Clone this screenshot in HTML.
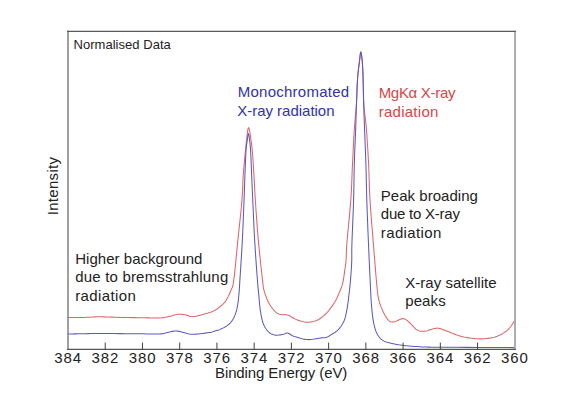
<!DOCTYPE html>
<html><head><meta charset="utf-8"><style>
html,body{margin:0;padding:0;background:#fff;width:568px;height:398px;overflow:hidden}
svg{display:block}
text{font-family:"Liberation Sans", sans-serif;}
</style></head><body>
<svg width="568" height="398" viewBox="0 0 568 398">
<rect x="0" y="0" width="568" height="398" fill="#fff"/>
<path d="M67.50,317.60 L68.87,317.59 L70.73,317.57 L72.93,317.56 L75.38,317.54 L77.92,317.51 L80.46,317.48 L82.86,317.45 L85.00,317.40 L86.87,317.34 L88.58,317.25 L90.20,317.15 L91.78,317.05 L93.39,316.95 L95.09,316.88 L96.94,316.82 L99.00,316.80 L101.30,316.82 L103.78,316.87 L106.41,316.95 L109.12,317.04 L111.89,317.14 L114.66,317.24 L117.38,317.33 L120.00,317.40 L122.55,317.45 L125.07,317.50 L127.57,317.54 L130.06,317.57 L132.54,317.61 L135.02,317.64 L137.51,317.67 L140.00,317.70 L142.57,317.74 L145.23,317.80 L147.94,317.87 L150.62,317.92 L153.23,317.97 L155.70,317.99 L157.98,317.97 L160.00,317.90 L161.74,317.78 L163.23,317.62 L164.54,317.41 L165.70,317.19 L166.78,316.94 L167.82,316.69 L168.88,316.44 L170.00,316.20 L171.17,315.95 L172.32,315.66 L173.46,315.35 L174.57,315.04 L175.67,314.76 L176.74,314.51 L177.78,314.32 L178.80,314.20 L179.77,314.16 L180.71,314.18 L181.60,314.26 L182.48,314.38 L183.35,314.52 L184.22,314.68 L185.10,314.84 L186.00,315.00 L186.87,315.20 L187.67,315.47 L188.44,315.78 L189.23,316.09 L190.09,316.37 L191.06,316.57 L192.18,316.66 L193.50,316.60 L195.12,316.37 L197.04,315.98 L199.14,315.48 L201.34,314.91 L203.53,314.30 L205.61,313.71 L207.46,313.16 L209.00,312.70 L210.21,312.32 L211.20,311.99 L212.01,311.69 L212.69,311.40 L213.28,311.12 L213.83,310.83 L214.39,310.53 L215.00,310.20 L215.62,309.86 L216.19,309.54 L216.73,309.21 L217.24,308.87 L217.76,308.50 L218.30,308.09 L218.87,307.63 L219.50,307.10 L220.19,306.52 L220.93,305.91 L221.71,305.26 L222.51,304.56 L223.31,303.81 L224.10,302.98 L224.87,302.09 L225.60,301.10 L226.31,300.00 L227.01,298.79 L227.71,297.50 L228.39,296.14 L229.05,294.74 L229.68,293.34 L230.26,291.95 L230.80,290.60 L231.27,289.47 L231.68,288.62 L232.04,287.88 L232.38,287.08 L232.70,286.06 L233.03,284.65 L233.39,282.68 L233.80,280.00 L234.25,276.49 L234.73,272.27 L235.22,267.50 L235.73,262.34 L236.25,256.95 L236.77,251.49 L237.29,246.12 L237.80,241.00 L238.33,235.95 L238.88,230.72 L239.45,225.41 L240.02,220.12 L240.56,214.95 L241.07,209.97 L241.52,205.29 L241.90,201.00 L242.19,197.16 L242.40,193.70 L242.55,190.53 L242.67,187.56 L242.77,184.72 L242.88,181.90 L243.01,179.02 L243.20,176.00 L243.44,172.79 L243.71,169.47 L243.99,166.10 L244.29,162.75 L244.59,159.50 L244.89,156.41 L245.16,153.55 L245.40,151.00 L245.62,148.76 L245.82,146.77 L246.01,144.98 L246.19,143.38 L246.35,141.91 L246.51,140.55 L246.66,139.26 L246.80,138.00 L246.93,136.81 L247.04,135.74 L247.14,134.77 L247.23,133.89 L247.31,133.09 L247.40,132.35 L247.49,131.66 L247.60,131.00 L247.72,130.37 L247.84,129.76 L247.96,129.20 L248.09,128.71 L248.22,128.29 L248.35,127.97 L248.47,127.77 L248.60,127.70 L248.72,127.77 L248.85,127.97 L248.97,128.29 L249.09,128.71 L249.22,129.20 L249.34,129.76 L249.47,130.37 L249.60,131.00 L249.73,131.66 L249.86,132.35 L249.98,133.09 L250.11,133.89 L250.25,134.77 L250.39,135.74 L250.54,136.81 L250.70,138.00 L250.88,139.26 L251.06,140.55 L251.26,141.91 L251.46,143.38 L251.67,144.98 L251.88,146.77 L252.09,148.76 L252.30,151.00 L252.51,153.55 L252.72,156.41 L252.94,159.50 L253.16,162.75 L253.38,166.10 L253.59,169.47 L253.80,172.79 L254.00,176.00 L254.18,179.02 L254.33,181.90 L254.48,184.72 L254.62,187.56 L254.77,190.53 L254.94,193.70 L255.15,197.16 L255.40,201.00 L255.69,205.29 L256.01,209.97 L256.36,214.95 L256.73,220.12 L257.12,225.41 L257.54,230.72 L257.96,235.95 L258.40,241.00 L258.88,246.12 L259.41,251.49 L259.97,256.95 L260.54,262.34 L261.10,267.50 L261.62,272.27 L262.10,276.49 L262.50,280.00 L262.80,282.67 L263.01,284.61 L263.16,285.99 L263.27,286.99 L263.40,287.77 L263.55,288.52 L263.78,289.40 L264.10,290.60 L264.51,292.06 L264.99,293.59 L265.51,295.16 L266.08,296.74 L266.68,298.31 L267.30,299.83 L267.95,301.27 L268.60,302.60 L269.28,303.85 L270.01,305.05 L270.77,306.19 L271.55,307.28 L272.34,308.30 L273.11,309.25 L273.87,310.12 L274.60,310.90 L275.28,311.59 L275.92,312.18 L276.53,312.69 L277.14,313.12 L277.76,313.50 L278.42,313.83 L279.12,314.13 L279.90,314.40 L280.74,314.59 L281.63,314.67 L282.55,314.68 L283.52,314.66 L284.52,314.65 L285.55,314.70 L286.61,314.83 L287.70,315.10 L288.83,315.53 L290.01,316.09 L291.23,316.75 L292.48,317.46 L293.74,318.18 L295.00,318.87 L296.26,319.49 L297.50,320.00 L298.72,320.43 L299.94,320.84 L301.16,321.22 L302.37,321.54 L303.60,321.82 L304.82,322.02 L306.06,322.15 L307.30,322.20 L308.57,322.16 L309.87,322.05 L311.19,321.86 L312.51,321.61 L313.81,321.30 L315.09,320.92 L316.32,320.49 L317.50,320.00 L318.63,319.44 L319.74,318.78 L320.81,318.05 L321.85,317.27 L322.85,316.45 L323.81,315.62 L324.73,314.80 L325.60,314.00 L326.41,313.21 L327.16,312.42 L327.85,311.62 L328.51,310.81 L329.14,310.00 L329.76,309.17 L330.38,308.34 L331.00,307.50 L331.63,306.66 L332.25,305.82 L332.85,304.98 L333.45,304.12 L334.03,303.26 L334.60,302.37 L335.16,301.45 L335.70,300.50 L336.22,299.51 L336.73,298.49 L337.21,297.45 L337.69,296.38 L338.15,295.30 L338.61,294.20 L339.06,293.10 L339.50,292.00 L339.95,290.92 L340.39,289.86 L340.83,288.80 L341.26,287.73 L341.68,286.62 L342.08,285.46 L342.45,284.22 L342.80,282.90 L343.12,281.45 L343.41,279.87 L343.68,278.21 L343.93,276.51 L344.16,274.79 L344.38,273.11 L344.59,271.50 L344.80,270.00 L345.00,268.65 L345.19,267.44 L345.37,266.30 L345.53,265.19 L345.69,264.06 L345.83,262.85 L345.97,261.52 L346.10,260.00 L346.19,258.48 L346.24,257.08 L346.26,255.67 L346.28,254.12 L346.32,252.31 L346.41,250.11 L346.56,247.38 L346.80,244.00 L347.16,239.79 L347.62,234.78 L348.16,229.20 L348.74,223.25 L349.32,217.14 L349.88,211.09 L350.39,205.31 L350.80,200.00 L351.12,195.12 L351.38,190.44 L351.60,185.91 L351.78,181.50 L351.95,177.15 L352.11,172.81 L352.29,168.45 L352.50,164.00 L352.73,159.42 L352.96,154.74 L353.19,150.02 L353.42,145.31 L353.66,140.69 L353.91,136.23 L354.15,131.97 L354.40,128.00 L354.66,124.35 L354.93,120.98 L355.22,117.82 L355.50,114.81 L355.78,111.89 L356.04,108.99 L356.28,106.05 L356.50,103.00 L356.68,99.81 L356.83,96.54 L356.95,93.23 L357.07,89.94 L357.18,86.72 L357.30,83.62 L357.44,80.69 L357.60,78.00 L357.79,75.53 L358.01,73.22 L358.24,71.07 L358.48,69.06 L358.72,67.16 L358.96,65.36 L359.19,63.65 L359.40,62.00 L359.59,60.34 L359.78,58.63 L359.95,56.97 L360.12,55.43 L360.29,54.09 L360.45,53.04 L360.62,52.35 L360.80,52.10 L360.99,52.35 L361.18,53.04 L361.39,54.09 L361.59,55.43 L361.78,56.97 L361.97,58.63 L362.15,60.34 L362.30,62.00 L362.43,63.65 L362.55,65.36 L362.66,67.16 L362.76,69.06 L362.85,71.07 L362.93,73.22 L363.01,75.53 L363.10,78.00 L363.17,80.69 L363.22,83.62 L363.25,86.72 L363.29,89.94 L363.34,93.23 L363.41,96.54 L363.53,99.81 L363.70,103.00 L363.93,106.05 L364.22,108.99 L364.54,111.89 L364.89,114.81 L365.26,117.82 L365.62,120.98 L365.98,124.35 L366.30,128.00 L366.61,131.97 L366.92,136.23 L367.22,140.69 L367.53,145.31 L367.82,150.02 L368.10,154.74 L368.36,159.42 L368.60,164.00 L368.80,168.45 L368.97,172.81 L369.10,177.15 L369.23,181.50 L369.37,185.91 L369.53,190.44 L369.74,195.12 L370.00,200.00 L370.33,205.10 L370.70,210.39 L371.11,215.83 L371.54,221.38 L372.00,227.00 L372.47,232.67 L372.94,238.35 L373.40,244.00 L373.87,249.87 L374.37,256.11 L374.88,262.52 L375.39,268.89 L375.90,275.02 L376.40,280.72 L376.87,285.78 L377.30,290.00 L377.68,293.28 L378.01,295.78 L378.31,297.65 L378.59,299.08 L378.89,300.24 L379.21,301.29 L379.57,302.42 L380.00,303.80 L380.50,305.35 L381.05,306.88 L381.65,308.38 L382.27,309.82 L382.91,311.22 L383.55,312.53 L384.19,313.77 L384.80,314.90 L385.40,315.95 L386.00,316.92 L386.59,317.83 L387.19,318.65 L387.79,319.39 L388.39,320.05 L388.99,320.62 L389.60,321.10 L390.19,321.48 L390.76,321.75 L391.31,321.94 L391.88,322.04 L392.47,322.06 L393.11,322.03 L393.81,321.94 L394.60,321.80 L395.50,321.54 L396.51,321.11 L397.58,320.57 L398.71,320.00 L399.84,319.45 L400.95,318.99 L402.02,318.69 L403.00,318.60 L403.90,318.72 L404.74,318.99 L405.54,319.39 L406.31,319.89 L407.08,320.47 L407.86,321.11 L408.66,321.80 L409.50,322.50 L410.38,323.30 L411.29,324.24 L412.21,325.28 L413.14,326.36 L414.09,327.41 L415.03,328.39 L415.97,329.24 L416.90,329.90 L417.82,330.39 L418.75,330.75 L419.67,331.02 L420.60,331.19 L421.52,331.30 L422.45,331.34 L423.37,331.33 L424.30,331.30 L425.23,331.20 L426.18,331.00 L427.12,330.72 L428.07,330.40 L429.01,330.06 L429.93,329.73 L430.83,329.43 L431.70,329.20 L432.53,329.00 L433.30,328.79 L434.05,328.58 L434.78,328.40 L435.52,328.26 L436.30,328.16 L437.11,328.14 L438.00,328.20 L438.93,328.35 L439.87,328.56 L440.84,328.84 L441.85,329.18 L442.91,329.56 L444.03,329.98 L445.22,330.43 L446.50,330.90 L447.89,331.42 L449.38,332.03 L450.96,332.68 L452.59,333.36 L454.26,334.04 L455.93,334.69 L457.59,335.29 L459.20,335.80 L460.78,336.24 L462.35,336.64 L463.93,337.01 L465.50,337.33 L467.07,337.62 L468.65,337.88 L470.22,338.10 L471.80,338.30 L473.38,338.47 L474.97,338.62 L476.56,338.73 L478.14,338.81 L479.73,338.85 L481.32,338.85 L482.91,338.80 L484.50,338.70 L486.10,338.55 L487.72,338.37 L489.35,338.14 L490.98,337.87 L492.59,337.54 L494.17,337.16 L495.71,336.71 L497.20,336.20 L498.65,335.61 L500.10,334.94 L501.52,334.21 L502.90,333.42 L504.23,332.59 L505.50,331.72 L506.70,330.82 L507.80,329.90 L508.84,328.88 L509.83,327.73 L510.75,326.50 L511.61,325.26 L512.39,324.06 L513.07,322.98 L513.64,322.07 L514.10,321.40" fill="none" stroke="#de6468" stroke-width="1.05"/>
<path d="M67.50,334.00 L68.41,333.99 L69.57,333.97 L70.94,333.94 L72.50,333.92 L74.21,333.89 L76.05,333.86 L77.99,333.83 L80.00,333.80 L82.00,333.76 L84.00,333.72 L86.07,333.67 L88.28,333.62 L90.71,333.57 L93.42,333.54 L96.49,333.51 L100.00,333.50 L104.18,333.51 L109.06,333.54 L114.41,333.58 L120.00,333.62 L125.59,333.68 L130.94,333.73 L135.82,333.77 L140.00,333.80 L143.48,333.84 L146.49,333.91 L149.13,333.98 L151.48,334.05 L153.65,334.09 L155.73,334.09 L157.81,334.03 L160.00,333.90 L162.23,333.64 L164.37,333.24 L166.45,332.76 L168.48,332.26 L170.47,331.77 L172.42,331.37 L174.36,331.09 L176.30,331.00 L178.19,331.14 L180.01,331.48 L181.78,331.96 L183.54,332.52 L185.32,333.08 L187.13,333.59 L189.02,333.99 L191.00,334.20 L193.17,334.23 L195.55,334.14 L198.04,333.95 L200.54,333.70 L202.98,333.41 L205.27,333.11 L207.30,332.83 L209.00,332.60 L210.32,332.40 L211.34,332.21 L212.13,332.02 L212.75,331.83 L213.28,331.63 L213.78,331.43 L214.33,331.22 L215.00,331.00 L215.74,330.79 L216.46,330.59 L217.18,330.39 L217.90,330.18 L218.63,329.95 L219.39,329.69 L220.17,329.37 L221.00,329.00 L221.89,328.57 L222.84,328.10 L223.84,327.60 L224.85,327.05 L225.86,326.47 L226.83,325.85 L227.75,325.19 L228.60,324.50 L229.38,323.79 L230.11,323.05 L230.80,322.29 L231.46,321.48 L232.08,320.63 L232.68,319.72 L233.25,318.75 L233.80,317.70 L234.33,316.59 L234.83,315.42 L235.31,314.20 L235.76,312.91 L236.19,311.56 L236.58,310.15 L236.96,308.66 L237.30,307.10 L237.61,305.42 L237.89,303.59 L238.14,301.67 L238.37,299.69 L238.57,297.71 L238.76,295.75 L238.93,293.87 L239.10,292.10 L239.24,290.63 L239.33,289.50 L239.40,288.53 L239.46,287.55 L239.53,286.38 L239.61,284.85 L239.73,282.78 L239.90,280.00 L240.13,276.42 L240.40,272.16 L240.71,267.39 L241.04,262.24 L241.38,256.88 L241.71,251.45 L242.02,246.11 L242.30,241.00 L242.55,235.95 L242.79,230.72 L243.02,225.41 L243.24,220.12 L243.45,214.95 L243.65,209.97 L243.83,205.29 L244.00,201.00 L244.15,197.16 L244.28,193.70 L244.39,190.53 L244.49,187.56 L244.58,184.72 L244.68,181.90 L244.78,179.02 L244.90,176.00 L245.03,172.78 L245.16,169.42 L245.29,166.01 L245.43,162.62 L245.56,159.35 L245.71,156.27 L245.85,153.46 L246.00,151.00 L246.15,148.92 L246.32,147.16 L246.48,145.65 L246.65,144.34 L246.82,143.18 L246.98,142.11 L247.15,141.06 L247.30,140.00 L247.45,138.88 L247.59,137.75 L247.72,136.66 L247.86,135.66 L247.99,134.79 L248.12,134.11 L248.26,133.66 L248.40,133.50 L248.55,133.66 L248.70,134.11 L248.85,134.79 L249.01,135.66 L249.16,136.66 L249.31,137.75 L249.46,138.88 L249.60,140.00 L249.73,141.06 L249.86,142.11 L249.99,143.18 L250.11,144.34 L250.23,145.65 L250.35,147.16 L250.47,148.92 L250.60,151.00 L250.73,153.46 L250.87,156.27 L251.01,159.35 L251.14,162.62 L251.28,166.01 L251.42,169.42 L251.56,172.78 L251.70,176.00 L251.83,179.02 L251.96,181.90 L252.08,184.72 L252.20,187.56 L252.33,190.53 L252.47,193.70 L252.62,197.16 L252.80,201.00 L252.99,205.29 L253.20,209.97 L253.42,214.95 L253.65,220.12 L253.89,225.41 L254.15,230.72 L254.42,235.95 L254.70,241.00 L255.01,246.09 L255.35,251.38 L255.71,256.75 L256.08,262.06 L256.45,267.17 L256.80,271.95 L257.12,276.28 L257.40,280.00 L257.64,283.03 L257.84,285.46 L258.02,287.41 L258.17,289.04 L258.32,290.49 L258.47,291.89 L258.63,293.38 L258.80,295.10 L258.97,297.00 L259.13,298.91 L259.29,300.83 L259.45,302.75 L259.62,304.65 L259.82,306.54 L260.04,308.39 L260.30,310.20 L260.59,312.00 L260.89,313.81 L261.21,315.61 L261.56,317.37 L261.94,319.09 L262.35,320.73 L262.80,322.27 L263.30,323.70 L263.85,325.02 L264.45,326.26 L265.09,327.43 L265.76,328.51 L266.46,329.50 L267.17,330.42 L267.89,331.25 L268.60,332.00 L269.31,332.65 L270.02,333.20 L270.74,333.66 L271.47,334.04 L272.22,334.36 L272.99,334.61 L273.78,334.82 L274.60,335.00 L275.47,335.12 L276.39,335.16 L277.35,335.15 L278.32,335.08 L279.29,334.98 L280.24,334.86 L281.15,334.73 L282.00,334.60 L282.79,334.43 L283.53,334.19 L284.23,333.91 L284.91,333.62 L285.58,333.36 L286.26,333.16 L286.96,333.07 L287.70,333.10 L288.43,333.28 L289.11,333.59 L289.79,333.99 L290.49,334.46 L291.24,334.96 L292.09,335.47 L293.07,335.96 L294.20,336.40 L295.52,336.84 L297.01,337.32 L298.63,337.82 L300.34,338.31 L302.10,338.76 L303.88,339.14 L305.62,339.43 L307.30,339.60 L308.98,339.62 L310.73,339.51 L312.50,339.31 L314.26,339.04 L315.96,338.74 L317.57,338.44 L319.02,338.18 L320.30,338.00 L321.37,337.89 L322.27,337.82 L323.02,337.78 L323.68,337.74 L324.27,337.71 L324.83,337.65 L325.39,337.55 L326.00,337.40 L326.60,337.21 L327.14,337.01 L327.64,336.79 L328.13,336.54 L328.64,336.26 L329.19,335.93 L329.80,335.54 L330.50,335.10 L331.31,334.61 L332.22,334.07 L333.19,333.50 L334.21,332.88 L335.23,332.20 L336.24,331.46 L337.21,330.66 L338.10,329.80 L338.95,328.86 L339.78,327.86 L340.60,326.80 L341.39,325.68 L342.14,324.50 L342.85,323.28 L343.50,322.01 L344.10,320.70 L344.63,319.33 L345.09,317.90 L345.50,316.40 L345.87,314.87 L346.20,313.31 L346.51,311.73 L346.81,310.16 L347.10,308.60 L347.38,307.06 L347.62,305.54 L347.84,304.01 L348.04,302.47 L348.23,300.92 L348.41,299.32 L348.60,297.69 L348.80,296.00 L349.01,294.28 L349.21,292.54 L349.42,290.77 L349.62,288.96 L349.83,287.10 L350.02,285.17 L350.22,283.18 L350.40,281.10 L350.58,278.91 L350.77,276.59 L350.96,274.20 L351.14,271.74 L351.31,269.27 L351.46,266.80 L351.59,264.36 L351.70,262.00 L351.77,259.88 L351.79,258.03 L351.79,256.31 L351.77,254.56 L351.76,252.61 L351.77,250.30 L351.81,247.49 L351.90,244.00 L352.05,239.69 L352.24,234.64 L352.47,229.05 L352.72,223.12 L352.97,217.06 L353.21,211.05 L353.43,205.29 L353.60,200.00 L353.73,195.12 L353.83,190.44 L353.90,185.91 L353.97,181.50 L354.03,177.15 L354.10,172.81 L354.19,168.45 L354.30,164.00 L354.45,159.42 L354.61,154.74 L354.80,150.02 L354.99,145.31 L355.19,140.69 L355.38,136.23 L355.55,131.97 L355.70,128.00 L355.83,124.35 L355.94,120.98 L356.03,117.82 L356.12,114.81 L356.20,111.89 L356.29,108.99 L356.39,106.05 L356.50,103.00 L356.62,99.81 L356.74,96.54 L356.86,93.23 L356.99,89.94 L357.12,86.72 L357.27,83.62 L357.43,80.69 L357.60,78.00 L357.79,75.53 L358.01,73.22 L358.24,71.07 L358.48,69.06 L358.72,67.16 L358.96,65.36 L359.19,63.65 L359.40,62.00 L359.59,60.34 L359.78,58.63 L359.95,56.97 L360.12,55.43 L360.29,54.09 L360.45,53.04 L360.62,52.35 L360.80,52.10 L360.99,52.35 L361.18,53.04 L361.39,54.09 L361.59,55.43 L361.78,56.97 L361.97,58.63 L362.15,60.34 L362.30,62.00 L362.43,63.65 L362.55,65.36 L362.66,67.16 L362.76,69.06 L362.85,71.07 L362.93,73.22 L363.01,75.53 L363.10,78.00 L363.18,80.69 L363.26,83.62 L363.33,86.72 L363.40,89.94 L363.47,93.23 L363.54,96.54 L363.62,99.81 L363.70,103.00 L363.79,106.05 L363.87,108.99 L363.96,111.89 L364.05,114.81 L364.15,117.82 L364.25,120.98 L364.37,124.35 L364.50,128.00 L364.65,131.97 L364.82,136.23 L365.00,140.69 L365.19,145.31 L365.39,150.02 L365.57,154.74 L365.74,159.42 L365.90,164.00 L366.03,168.45 L366.14,172.81 L366.24,177.15 L366.33,181.50 L366.43,185.91 L366.53,190.44 L366.65,195.12 L366.80,200.00 L366.97,205.10 L367.16,210.39 L367.36,215.83 L367.58,221.38 L367.80,227.00 L368.03,232.67 L368.26,238.35 L368.50,244.00 L368.75,249.87 L369.03,256.11 L369.32,262.52 L369.61,268.89 L369.89,275.02 L370.16,280.72 L370.40,285.78 L370.60,290.00 L370.76,293.27 L370.88,295.71 L370.97,297.53 L371.04,298.91 L371.11,300.04 L371.19,301.10 L371.28,302.30 L371.40,303.80 L371.54,305.54 L371.69,307.31 L371.84,309.09 L372.01,310.87 L372.18,312.62 L372.37,314.34 L372.58,316.00 L372.80,317.60 L373.04,319.14 L373.28,320.65 L373.54,322.11 L373.82,323.54 L374.11,324.91 L374.42,326.23 L374.75,327.50 L375.10,328.70 L375.47,329.84 L375.84,330.91 L376.24,331.93 L376.65,332.89 L377.09,333.81 L377.56,334.68 L378.06,335.51 L378.60,336.30 L379.18,337.05 L379.80,337.76 L380.45,338.42 L381.14,339.04 L381.85,339.62 L382.58,340.16 L383.33,340.65 L384.10,341.10 L384.87,341.49 L385.63,341.81 L386.40,342.09 L387.21,342.32 L388.05,342.53 L388.95,342.74 L389.93,342.96 L391.00,343.20 L392.12,343.47 L393.25,343.74 L394.43,344.01 L395.68,344.28 L397.04,344.55 L398.52,344.81 L400.17,345.06 L402.00,345.30 L404.08,345.53 L406.41,345.77 L408.93,345.99 L411.56,346.21 L414.25,346.42 L416.93,346.60 L419.53,346.77 L422.00,346.90 L423.96,347.00 L425.33,347.06 L426.44,347.10 L427.62,347.12 L429.24,347.14 L431.61,347.15 L435.08,347.17 L440.00,347.20 L447.08,347.25 L456.30,347.30 L466.90,347.36 L478.12,347.42 L489.21,347.47 L499.39,347.53 L507.91,347.57 L514.00,347.60" fill="none" stroke="#5a5abe" stroke-width="1.05"/>
<line x1="68.0" y1="30.8" x2="68.0" y2="350" stroke="#808080" stroke-width="1.5"/>
<line x1="515" y1="30.8" x2="515" y2="349.9" stroke="#9a9a9a" stroke-width="1.6"/>
<line x1="67" y1="31.4" x2="515.8" y2="31.4" stroke="#5a5a5a" stroke-width="1.3"/>
<line x1="67" y1="349.4" x2="515.8" y2="349.4" stroke="#555" stroke-width="1.2"/>
<g stroke="#404040" stroke-width="1"><line x1="105.23" y1="342.6" x2="105.23" y2="349.4"/><line x1="142.47" y1="342.6" x2="142.47" y2="349.4"/><line x1="179.70" y1="342.6" x2="179.70" y2="349.4"/><line x1="216.93" y1="342.6" x2="216.93" y2="349.4"/><line x1="254.17" y1="342.6" x2="254.17" y2="349.4"/><line x1="291.40" y1="342.6" x2="291.40" y2="349.4"/><line x1="328.63" y1="342.6" x2="328.63" y2="349.4"/><line x1="365.87" y1="342.6" x2="365.87" y2="349.4"/><line x1="403.10" y1="342.6" x2="403.10" y2="349.4"/><line x1="440.33" y1="342.6" x2="440.33" y2="349.4"/><line x1="477.57" y1="342.6" x2="477.57" y2="349.4"/></g>
<g font-size="15" fill="#222"><text x="68.15" y="363.3" text-anchor="middle" letter-spacing="0.9">384</text><text x="105.38" y="363.3" text-anchor="middle" letter-spacing="0.9">382</text><text x="142.62" y="363.3" text-anchor="middle" letter-spacing="0.9">380</text><text x="179.85" y="363.3" text-anchor="middle" letter-spacing="0.9">378</text><text x="217.08" y="363.3" text-anchor="middle" letter-spacing="0.9">376</text><text x="254.32" y="363.3" text-anchor="middle" letter-spacing="0.9">374</text><text x="291.55" y="363.3" text-anchor="middle" letter-spacing="0.9">372</text><text x="328.78" y="363.3" text-anchor="middle" letter-spacing="0.9">370</text><text x="366.02" y="363.3" text-anchor="middle" letter-spacing="0.9">368</text><text x="403.25" y="363.3" text-anchor="middle" letter-spacing="0.9">366</text><text x="440.48" y="363.3" text-anchor="middle" letter-spacing="0.9">364</text><text x="477.72" y="363.3" text-anchor="middle" letter-spacing="0.9">362</text><text x="514.95" y="363.3" text-anchor="middle" letter-spacing="0.9">360</text></g>
<text id="norm" x="73.50" y="48.9" font-size="13" fill="#222" letter-spacing="0.036">Normalised Data</text>
<text id="mono" x="237.70" y="97.0" font-size="15" fill="#3232aa" letter-spacing="0.258">Monochromated</text>
<text id="xrb" x="237.20" y="116.2" font-size="15" fill="#3232aa" letter-spacing="-0.014">X-ray radiation</text>
<text id="mgka" x="378.70" y="97.7" font-size="15" fill="#d64646" letter-spacing="-0.311">MgKα X-ray</text>
<text id="radr" x="378.70" y="117" font-size="15" fill="#d64646" letter-spacing="0.263">radiation</text>
<text id="peak" x="380.80" y="200.9" font-size="15" fill="#222" letter-spacing="0.033">Peak broading</text>
<text id="due1" x="380.80" y="218.9" font-size="15" fill="#222" letter-spacing="-0.236">due to X-ray</text>
<text id="rad1" x="380.80" y="237.7" font-size="15" fill="#222" letter-spacing="0.375">radiation</text>
<text id="high" x="75.20" y="263.8" font-size="15" fill="#222" letter-spacing="0.031">Higher background</text>
<text id="due2" x="75.20" y="282.3" font-size="15" fill="#222" letter-spacing="0.190">due to bremsstrahlung</text>
<text id="rad2" x="75.20" y="301" font-size="15" fill="#222" letter-spacing="0.375">radiation</text>
<text id="xsat" x="405.20" y="287.8" font-size="15" fill="#222" letter-spacing="0.036">X-ray satellite</text>
<text id="peaks" x="405.20" y="305.9" font-size="15" fill="#222" letter-spacing="0.125">peaks</text>
<text id="bind" x="215.00" y="377.5" font-size="15" fill="#222" letter-spacing="-0.106">Binding Energy (eV)</text>

<text transform="translate(58.3,186.0) rotate(-90)" text-anchor="middle" font-size="15" fill="#222" letter-spacing="0.3">Intensity</text>
</svg>
</body></html>
